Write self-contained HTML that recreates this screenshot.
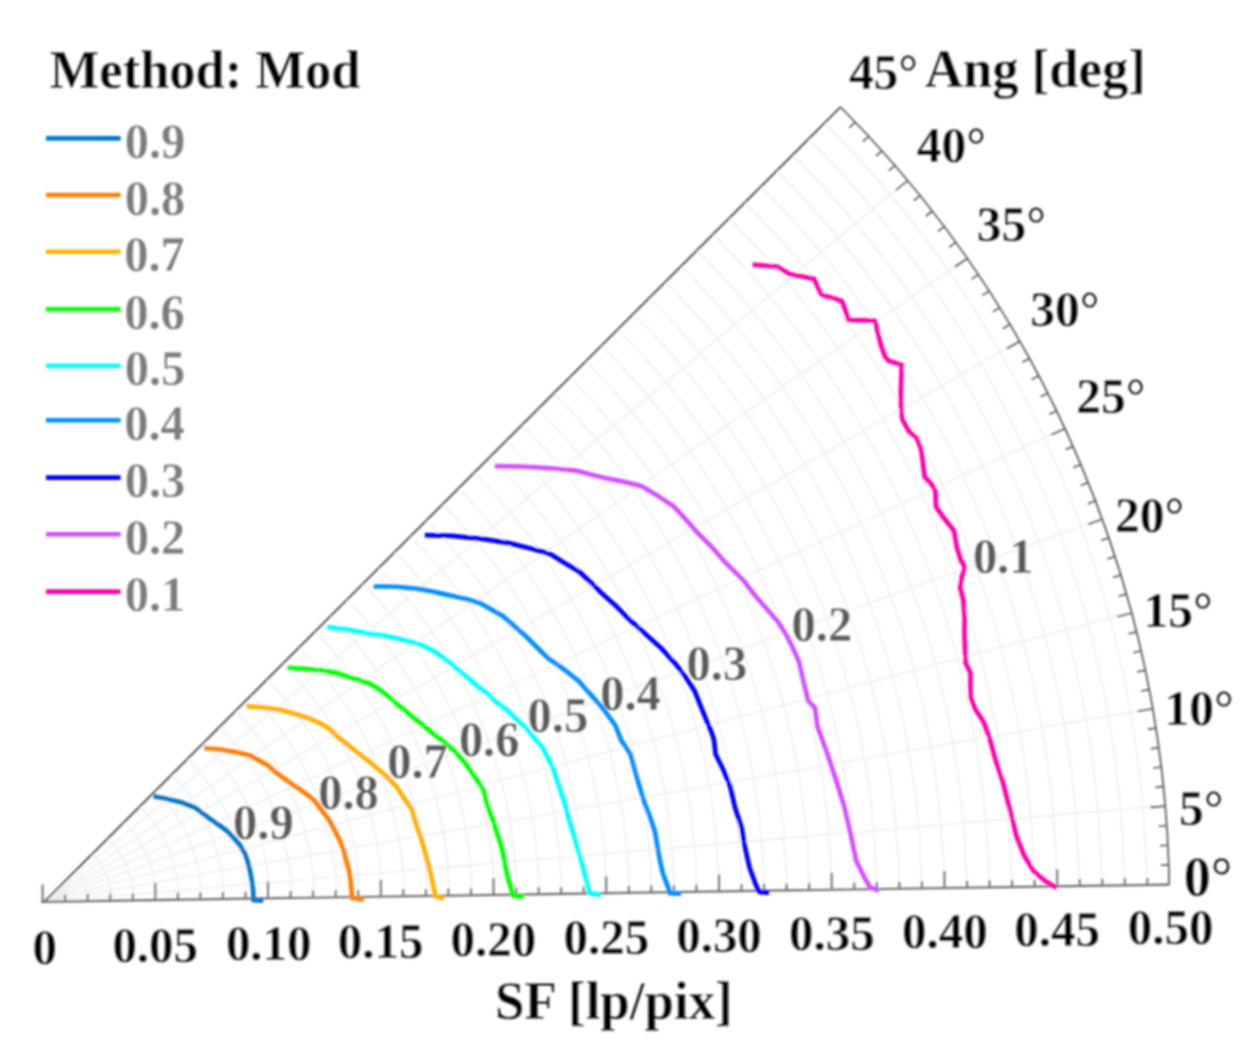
<!DOCTYPE html><html><head><meta charset="utf-8"><style>html,body{margin:0;padding:0;background:#fff;width:1255px;height:1050px;overflow:hidden}svg{display:block}text{font-family:"Liberation Serif",serif;font-weight:bold}</style></head><body>
<svg width="1255" height="1050" viewBox="0 0 1255 1050">
<defs><filter id="bl" x="0" y="0" width="1255" height="1050" filterUnits="userSpaceOnUse"><feGaussianBlur stdDeviation="0.8"/></filter></defs><rect width="1255" height="1050" fill="#fff"/><g filter="url(#bl)">
<path d="M66.8 901.5A22.5 22.5 0 0 0 60.2 885.9M89.3 901.1A45.0 45.0 0 0 0 76.1 870.0M111.8 900.8A67.5 67.5 0 0 0 92.1 854.1M134.3 900.4A90.0 90.0 0 0 0 108.0 838.2M156.8 900.1A112.5 112.5 0 0 0 123.9 822.3M179.3 899.7A135.0 135.0 0 0 0 139.8 806.4M201.8 899.4A157.5 157.5 0 0 0 155.8 790.5M224.3 899.0A180.0 180.0 0 0 0 171.7 774.6M246.8 898.7A202.5 202.5 0 0 0 187.6 758.7M269.3 898.4A225.0 225.0 0 0 0 203.5 742.8M291.8 898.0A247.5 247.5 0 0 0 219.5 726.9M314.3 897.7A270.0 270.0 0 0 0 235.4 711.0M336.8 897.3A292.5 292.5 0 0 0 251.3 695.2M359.3 897.0A315.0 315.0 0 0 0 267.2 679.3M381.8 896.6A337.5 337.5 0 0 0 283.2 663.4M404.3 896.3A360.0 360.0 0 0 0 299.1 647.5M426.8 896.0A382.5 382.5 0 0 0 315.0 631.6M449.3 895.6A405.0 405.0 0 0 0 330.9 615.7M471.8 895.3A427.5 427.5 0 0 0 346.9 599.8M494.2 894.9A450.0 450.0 0 0 0 362.8 583.9M516.7 894.6A472.5 472.5 0 0 0 378.7 568.0M539.2 894.2A495.0 495.0 0 0 0 394.6 552.1M561.7 893.9A517.5 517.5 0 0 0 410.5 536.2M584.2 893.5A540.0 540.0 0 0 0 426.5 520.3M606.7 893.2A562.5 562.5 0 0 0 442.4 504.4M629.2 892.9A585.0 585.0 0 0 0 458.3 488.5M651.7 892.5A607.5 607.5 0 0 0 474.2 472.6M674.2 892.2A630.0 630.0 0 0 0 490.2 456.7M696.7 891.8A652.5 652.5 0 0 0 506.1 440.8M719.2 891.5A675.0 675.0 0 0 0 522.0 424.9M741.7 891.1A697.5 697.5 0 0 0 537.9 409.0M764.2 890.8A720.0 720.0 0 0 0 553.9 393.1M786.7 890.4A742.5 742.5 0 0 0 569.8 377.2M809.2 890.1A765.0 765.0 0 0 0 585.7 361.3M831.7 889.8A787.5 787.5 0 0 0 601.6 345.4M854.2 889.4A810.0 810.0 0 0 0 617.6 329.5M876.7 889.1A832.5 832.5 0 0 0 633.5 313.6M899.2 888.7A855.0 855.0 0 0 0 649.4 297.8M921.7 888.4A877.5 877.5 0 0 0 665.3 281.9M944.2 888.0A900.0 900.0 0 0 0 681.3 266.0M966.7 887.7A922.5 922.5 0 0 0 697.2 250.1M989.2 887.4A945.0 945.0 0 0 0 713.1 234.2M1011.7 887.0A967.5 967.5 0 0 0 729.0 218.3M1034.2 886.7A990.0 990.0 0 0 0 744.9 202.4M1056.7 886.3A1012.5 1012.5 0 0 0 760.9 186.5M1079.2 886.0A1035.0 1035.0 0 0 0 776.8 170.6M1101.7 885.6A1057.5 1057.5 0 0 0 792.7 154.7M1124.2 885.3A1080.0 1080.0 0 0 0 808.6 138.8M1146.7 884.9A1102.5 1102.5 0 0 0 824.6 122.9M44.3 901.8L1165.2 805.7M44.3 901.8L1152.5 708.4M44.3 901.8L1131.5 612.5M44.3 901.8L1102.1 518.9M44.3 901.8L1064.7 428.1M44.3 901.8L1019.6 341.0M44.3 901.8L967.0 258.1M44.3 901.8L907.4 180.2" fill="none" stroke="#eeeeee" stroke-width="1.5"/>
<path d="M1169.2 884.6A1125.0 1125.0 0 0 0 840.5 107.0" fill="none" stroke="#555" stroke-width="1.7"/>
<path d="M1169.2 884.5L1161.2 884.6M1168.7 864.9L1160.7 865.2M1167.9 845.3L1159.9 845.7M1166.7 825.7L1158.7 826.2M1165.2 806.1L1150.3 807.4M1163.4 786.5L1155.4 787.4M1161.2 767.0L1153.3 768.0M1158.7 747.6L1150.8 748.7M1155.8 728.1L1147.9 729.4M1152.6 708.8L1137.8 711.3M1149.1 689.5L1141.2 691.0M1145.2 670.2L1137.4 671.9M1141.0 651.0L1133.2 652.8M1136.5 631.9L1128.7 633.8M1131.6 612.9L1117.1 616.8M1126.4 594.0L1118.7 596.2M1120.8 575.1L1113.2 577.5M1115.0 556.4L1107.4 558.9M1108.8 537.8L1101.2 540.4M1102.3 519.2L1088.2 524.3M1095.4 500.8L1087.9 503.7M1088.3 482.6L1080.8 485.5M1080.8 464.4L1073.4 467.5M1073.0 446.4L1065.7 449.6M1064.9 428.5L1051.3 434.8M1056.5 410.8L1049.3 414.2M1047.7 393.2L1040.6 396.8M1038.7 375.7L1031.6 379.5M1029.4 358.5L1022.4 362.3M1019.8 341.3L1006.7 348.8M1009.8 324.4L1003.0 328.5M999.6 307.6L992.8 311.9M989.1 291.1L982.4 295.4M978.3 274.7L971.6 279.1M967.2 258.5L954.9 267.0M955.8 242.4L949.3 247.1M944.2 226.6L937.8 231.4M932.3 211.0L925.9 216.0M920.1 195.6L913.8 200.7M907.6 180.5L896.1 190.1M894.9 165.5L888.8 170.7M881.9 150.8L876.0 156.1M868.7 136.3L862.8 141.7M855.2 122.0L849.4 127.6" stroke="#555" stroke-width="1.6"/>
<path d="M44.3 901.8L840.5 107.0" stroke="#3a3a3a" stroke-width="1.7"/>
<path d="M41.2 901.8L1169.2 884.6" stroke="#707070" stroke-width="2.2"/>
<path d="M42.6 901.8V884.8M65.1 901.5V894.5M87.7 901.1V894.1M110.2 900.8V893.8M132.8 900.4V893.4M155.3 900.1V883.1M177.9 899.8V892.8M200.4 899.4V892.4M222.9 899.1V892.1M245.5 898.7V891.7M268.0 898.4V881.4M290.6 898.0V891.0M313.1 897.7V890.7M335.7 897.3V890.3M358.2 897.0V890.0M380.8 896.7V879.7M403.3 896.3V889.3M425.9 896.0V889.0M448.4 895.6V888.6M471.0 895.3V888.3M493.5 894.9V877.9M516.1 894.6V887.6M538.6 894.2V887.2M561.2 893.9V886.9M583.7 893.6V886.6M606.2 893.2V876.2M628.8 892.9V885.9M651.3 892.5V885.5M673.9 892.2V885.2M696.4 891.8V884.8M719.0 891.5V874.5M741.5 891.1V884.1M764.1 890.8V883.8M786.6 890.5V883.5M809.2 890.1V883.1M831.7 889.8V872.8M854.3 889.4V882.4M876.8 889.1V882.1M899.4 888.7V881.7M921.9 888.4V881.4M944.5 888.0V871.0M967.0 887.7V880.7M989.5 887.3V880.3M1012.1 887.0V880.0M1034.6 886.7V879.7M1057.2 886.3V869.3M1079.7 886.0V879.0M1102.3 885.6V878.6M1124.8 885.3V878.3M1147.4 884.9V877.9" stroke="#707070" stroke-width="2"/>
<path d="M153.6 796.1L168.5 799.2L180.8 802.3L194.5 807.2L201.9 812.8L209.3 818.4L219.2 825.2L226.6 830.7L234.1 838.2L240.3 845.6L245.2 854.3L247.7 861.7L250.2 871.6L252.0 881.5L253.3 891.4L253.3 900.1L263.2 900.7" fill="none" stroke="#0078c8" stroke-width="4.7" stroke-linejoin="round" stroke-linecap="butt"/>
<path d="M204.1 748.0L220.7 749.5L236.3 752.1L249.7 755.2L258.0 759.9L267.3 765.0L274.6 771.3L282.9 777.5L291.2 783.7L299.4 788.9L307.7 795.1L314.0 800.0L321.5 810.0L329.0 820.0L334.5 830.0L339.5 840.0L343.5 850.0L346.0 860.0L349.0 870.0L350.5 880.0L351.5 890.0L352.0 898.0L364.0 899.3" fill="none" stroke="#ff7f00" stroke-width="4.7" stroke-linejoin="round" stroke-linecap="butt"/>
<path d="M246.7 706.2L262.3 707.3L279.0 709.5L295.8 714.0L309.2 718.4L320.3 723.4L329.2 728.5L337.1 736.3L347.1 744.1L358.2 753.0L368.3 760.8L374.8 766.2L386.6 776.6L396.9 786.9L404.3 798.7L411.7 809.1L416.1 823.9L422.0 841.6L426.5 857.8L430.9 874.1L433.9 888.8L435.3 896.2L444.2 898.5" fill="none" stroke="#ffb000" stroke-width="4.7" stroke-linejoin="round" stroke-linecap="butt"/>
<path d="M287.3 667.8L307.9 669.0L324.6 670.6L338.0 673.4L352.5 677.9L367.0 682.4L378.2 688.5L389.3 696.9L400.5 706.9L411.4 716.0L422.9 725.1L434.3 734.3L445.7 743.4L454.9 751.4L464.0 761.7L470.9 770.9L477.7 781.1L483.4 790.3L485.5 800.0L489.0 811.0L493.0 820.0L497.0 833.0L500.0 842.0L503.0 853.0L505.0 865.0L508.0 878.0L511.0 888.0L513.0 895.5L524.0 896.5" fill="none" stroke="#00ff00" stroke-width="4.7" stroke-linejoin="round" stroke-linecap="butt"/>
<path d="M327.3 627.2L345.5 629.1L364.6 632.9L383.7 635.5L399.0 638.7L412.0 642.0L422.4 645.3L433.8 651.0L445.3 658.9L450.0 662.4L459.5 671.0L469.0 678.6L478.6 687.1L488.1 693.8L497.6 703.3L507.1 710.0L516.7 719.5L526.2 728.1L535.7 739.5L543.3 749.0L552.9 768.0L560.0 789.1L564.6 802.9L569.1 820.0L573.7 834.9L578.3 850.9L582.9 866.9L586.3 880.6L589.7 893.1L601.1 894.9" fill="none" stroke="#00ffff" stroke-width="4.7" stroke-linejoin="round" stroke-linecap="butt"/>
<path d="M373.6 586.5L393.7 586.5L422.4 589.4L445.3 594.4L465.4 598.7L479.7 603.0L491.2 609.4L502.7 615.9L514.2 625.9L525.6 636.0L537.1 647.5L548.3 658.3L563.5 669.0L578.8 681.1L591.0 694.9L603.1 708.6L615.3 725.3L621.4 740.6L630.6 754.3L635.1 771.0L638.5 783.0L641.0 791.4L644.6 802.9L650.3 817.7L654.9 831.4L657.1 844.0L659.4 857.7L662.9 873.7L668.6 888.6L669.7 893.1L681.1 893.7" fill="none" stroke="#0090ff" stroke-width="4.7" stroke-linejoin="round" stroke-linecap="butt"/>
<path d="M424.8 535.1L451.9 535.9L483.7 539.1L509.2 543.1L531.6 548.7L550.7 554.3L563.4 562.2L579.4 571.8L592.1 583.7L601.5 593.0L615.2 605.2L630.5 620.5L645.7 634.2L661.0 647.9L676.2 664.7L685.3 676.9L694.5 690.6L700.6 705.8L706.7 721.0L711.0 731.0L714.0 739.7L715.6 754.3L723.7 770.5L730.2 786.7L735.1 807.7L741.5 827.2L744.8 846.6L749.6 867.7L756.1 885.5L759.4 892.0L769.1 892.8" fill="none" stroke="#0000ff" stroke-width="4.7" stroke-linejoin="round" stroke-linecap="butt"/>
<path d="M494.8 466.2L521.9 466.5L553.7 468.5L577.6 470.9L601.6 477.3L625.5 482.1L641.4 486.1L657.3 495.6L673.3 506.0L683.7 517.1L697.4 532.6L711.1 546.3L723.1 560.0L733.4 570.3L743.7 580.6L754.0 594.3L766.0 608.0L778.0 621.7L786.6 635.4L793.4 649.2L799.0 662.0L803.7 682.8L808.3 701.1L815.1 707.9L817.4 726.2L826.5 751.3L835.7 778.7L844.8 808.4L850.5 833.5L856.2 860.9L865.3 879.2L869.9 887.2L879.0 890.6" fill="none" stroke="#d250ff" stroke-width="4.7" stroke-linejoin="round" stroke-linecap="butt"/>
<path d="M752.6 264.6L776.9 266.5L789.6 274.1L813.8 278.6L818.3 288.1L821.5 294.5L841.9 300.9L845.7 311.1L848.3 320.0L875.0 320.7L877.6 331.5L881.4 346.8L885.2 357.0L889.1 361.1L901.7 364.6L901.1 382.9L900.6 400.0L902.3 419.4L908.6 430.9L916.6 437.7L921.1 449.1L922.9 462.9L924.6 476.6L931.3 484.0L935.3 490.7L936.0 506.7L943.3 517.3L954.0 530.7L956.7 546.7L960.7 560.0L964.7 566.7L962.0 576.0L960.0 586.7L963.3 600.0L964.7 618.7L964.4 633.3L965.6 663.0L970.5 672.9L970.5 697.6L975.6 709.8L983.4 721.5L989.3 737.1L995.1 758.5L1002.9 782.0L1010.7 813.2L1016.6 836.6L1024.4 856.1L1034.1 871.7L1045.9 881.5L1056.6 887.7" fill="none" stroke="#ff00aa" stroke-width="4.7" stroke-linejoin="round" stroke-linecap="butt"/>
<line x1="46" y1="138.4" x2="120.6" y2="138.4" stroke="#0078c8" stroke-width="4.6"/>
<line x1="46" y1="195.0" x2="120.6" y2="195.0" stroke="#ff7f00" stroke-width="4.6"/>
<line x1="46" y1="251.8" x2="120.6" y2="251.8" stroke="#ffb000" stroke-width="4.6"/>
<line x1="46" y1="309.2" x2="120.6" y2="309.2" stroke="#00ff00" stroke-width="4.6"/>
<line x1="46" y1="365.8" x2="120.6" y2="365.8" stroke="#00ffff" stroke-width="4.6"/>
<line x1="46" y1="420.3" x2="120.6" y2="420.3" stroke="#0090ff" stroke-width="4.6"/>
<line x1="46" y1="477.6" x2="120.6" y2="477.6" stroke="#0000ff" stroke-width="4.6"/>
<line x1="46" y1="534.3" x2="120.6" y2="534.3" stroke="#d250ff" stroke-width="4.6"/>
<line x1="46" y1="591.6" x2="120.6" y2="591.6" stroke="#ff00aa" stroke-width="4.6"/>
<text transform="matrix(1 0 0 1.04 0 -2.71)" x="49.8" y="86.8" font-size="52.53" fill="#000" stroke="#fff" stroke-width="0.3">Method: Mod</text>
<text transform="matrix(1 0 0 1.04 0 -2.90)" x="925.0" y="86.0" font-size="52.63" fill="#000" stroke="#fff" stroke-width="0.3">Ang [deg]</text>
<text transform="matrix(1 0 0 1.04 0 -40.22)" x="495.0" y="1018.9" font-size="52.94" fill="#000" stroke="#fff" stroke-width="0.3">SF [lp/pix]</text>
<text transform="matrix(1 0 0 1.04 0 -5.63)" x="124.8" y="157.3" font-size="48.45" fill="#7c7c7c" stroke="#fff" stroke-width="0.3">0.9</text>
<text transform="matrix(1 0 0 1.04 0 -7.90)" x="124.8" y="213.9" font-size="48.45" fill="#7c7c7c" stroke="#fff" stroke-width="0.3">0.8</text>
<text transform="matrix(1 0 0 1.04 0 -10.17)" x="124.3" y="270.7" font-size="48.45" fill="#7c7c7c" stroke="#fff" stroke-width="0.3">0.7</text>
<text transform="matrix(1 0 0 1.04 0 -12.46)" x="124.3" y="328.1" font-size="48.45" fill="#7c7c7c" stroke="#fff" stroke-width="0.3">0.6</text>
<text transform="matrix(1 0 0 1.04 0 -14.73)" x="124.8" y="384.7" font-size="48.45" fill="#7c7c7c" stroke="#fff" stroke-width="0.3">0.5</text>
<text transform="matrix(1 0 0 1.04 0 -16.91)" x="124.3" y="439.2" font-size="48.45" fill="#7c7c7c" stroke="#fff" stroke-width="0.3">0.4</text>
<text transform="matrix(1 0 0 1.04 0 -19.20)" x="124.8" y="496.5" font-size="48.45" fill="#7c7c7c" stroke="#fff" stroke-width="0.3">0.3</text>
<text transform="matrix(1 0 0 1.04 0 -21.47)" x="124.8" y="553.2" font-size="48.45" fill="#7c7c7c" stroke="#fff" stroke-width="0.3">0.2</text>
<text transform="matrix(1 0 0 1.04 0 -23.76)" x="124.8" y="610.5" font-size="48.45" fill="#7c7c7c" stroke="#fff" stroke-width="0.3">0.1</text>
<text transform="matrix(1 0 0 1.04 0 -32.87)" x="233.1" y="838.4" font-size="48.45" fill="#5a5a5a" stroke="#fff" stroke-width="0.3">0.9</text>
<text transform="matrix(1 0 0 1.04 0 -31.67)" x="318.3" y="808.2" font-size="48.45" fill="#5a5a5a" stroke="#fff" stroke-width="0.3">0.8</text>
<text transform="matrix(1 0 0 1.04 0 -30.45)" x="387.3" y="777.8" font-size="48.45" fill="#5a5a5a" stroke="#fff" stroke-width="0.3">0.7</text>
<text transform="matrix(1 0 0 1.04 0 -29.57)" x="458.9" y="755.8" font-size="48.45" fill="#5a5a5a" stroke="#fff" stroke-width="0.3">0.6</text>
<text transform="matrix(1 0 0 1.04 0 -28.60)" x="527.6" y="731.5" font-size="48.45" fill="#5a5a5a" stroke="#fff" stroke-width="0.3">0.5</text>
<text transform="matrix(1 0 0 1.04 0 -27.71)" x="600.3" y="709.4" font-size="48.45" fill="#5a5a5a" stroke="#fff" stroke-width="0.3">0.4</text>
<text transform="matrix(1 0 0 1.04 0 -26.52)" x="686.6" y="679.5" font-size="48.45" fill="#5a5a5a" stroke="#fff" stroke-width="0.3">0.3</text>
<text transform="matrix(1 0 0 1.04 0 -24.96)" x="791.6" y="640.6" font-size="48.45" fill="#5a5a5a" stroke="#fff" stroke-width="0.3">0.2</text>
<text transform="matrix(1 0 0 1.04 0 -22.24)" x="972.9" y="572.6" font-size="48.45" fill="#5a5a5a" stroke="#fff" stroke-width="0.3">0.1</text>
<text transform="matrix(1 0 0 1.04 0 -37.88)" x="32.5" y="963.5" font-size="48.96" fill="#000" stroke="#fff" stroke-width="0.3">0</text>
<text transform="matrix(1 0 0 1.04 0 -37.80)" x="112.4" y="961.5" font-size="48.96" fill="#000" stroke="#fff" stroke-width="0.3">0.05</text>
<text transform="matrix(1 0 0 1.04 0 -37.72)" x="225.9" y="959.4" font-size="48.96" fill="#000" stroke="#fff" stroke-width="0.3">0.10</text>
<text transform="matrix(1 0 0 1.04 0 -37.64)" x="337.8" y="957.4" font-size="48.96" fill="#000" stroke="#fff" stroke-width="0.3">0.15</text>
<text transform="matrix(1 0 0 1.04 0 -37.55)" x="450.6" y="955.3" font-size="48.96" fill="#000" stroke="#fff" stroke-width="0.3">0.20</text>
<text transform="matrix(1 0 0 1.04 0 -37.47)" x="563.5" y="953.3" font-size="48.96" fill="#000" stroke="#fff" stroke-width="0.3">0.25</text>
<text transform="matrix(1 0 0 1.04 0 -37.39)" x="676.2" y="951.2" font-size="48.96" fill="#000" stroke="#fff" stroke-width="0.3">0.30</text>
<text transform="matrix(1 0 0 1.04 0 -37.31)" x="789.1" y="949.2" font-size="48.96" fill="#000" stroke="#fff" stroke-width="0.3">0.35</text>
<text transform="matrix(1 0 0 1.04 0 -37.22)" x="902.0" y="947.1" font-size="48.96" fill="#000" stroke="#fff" stroke-width="0.3">0.40</text>
<text transform="matrix(1 0 0 1.04 0 -37.14)" x="1014.3" y="945.1" font-size="48.96" fill="#000" stroke="#fff" stroke-width="0.3">0.45</text>
<text transform="matrix(1 0 0 1.04 0 -37.06)" x="1127.8" y="943.0" font-size="48.96" fill="#000" stroke="#fff" stroke-width="0.3">0.50</text>
<text transform="matrix(1 0 0 1.04 0 -35.05)" x="1183.8" y="895.2" font-size="54.06" fill="#000" stroke="#fff" stroke-width="0.3">0°</text>
<text transform="matrix(1 0 0 1.04 0 -32.30)" x="1179.1" y="823.9" font-size="49.47" fill="#000" stroke="#fff" stroke-width="0.3">5°</text>
<text transform="matrix(1 0 0 1.04 0 -28.31)" x="1164.5" y="724.4" font-size="49.47" fill="#000" stroke="#fff" stroke-width="0.3">10°</text>
<text transform="matrix(1 0 0 1.04 0 -24.40)" x="1143.6" y="626.6" font-size="49.47" fill="#000" stroke="#fff" stroke-width="0.3">15°</text>
<text transform="matrix(1 0 0 1.04 0 -20.59)" x="1115.0" y="531.4" font-size="49.47" fill="#000" stroke="#fff" stroke-width="0.3">20°</text>
<text transform="matrix(1 0 0 1.04 0 -15.84)" x="1076.2" y="412.6" font-size="49.47" fill="#000" stroke="#fff" stroke-width="0.3">25°</text>
<text transform="matrix(1 0 0 1.04 0 -12.35)" x="1030.2" y="325.2" font-size="49.47" fill="#000" stroke="#fff" stroke-width="0.3">30°</text>
<text transform="matrix(1 0 0 1.04 0 -8.96)" x="976.8" y="240.4" font-size="49.47" fill="#000" stroke="#fff" stroke-width="0.3">35°</text>
<text transform="matrix(1 0 0 1.04 0 -5.78)" x="916.7" y="161.0" font-size="49.47" fill="#000" stroke="#fff" stroke-width="0.3">40°</text>
<text transform="matrix(1 0 0 1.04 0 -2.87)" x="848.9" y="88.3" font-size="49.47" fill="#000" stroke="#fff" stroke-width="0.3">45°</text>
</g></svg></body></html>
